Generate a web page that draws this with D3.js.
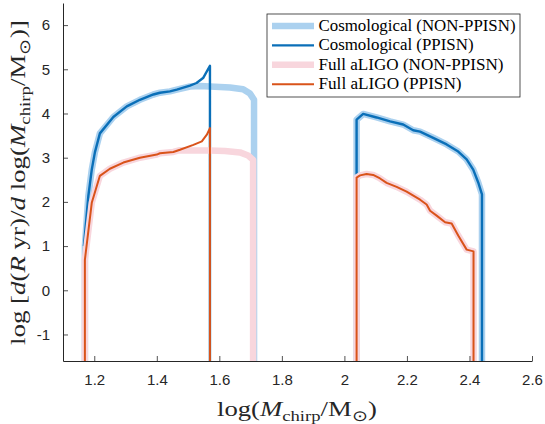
<!DOCTYPE html>
<html>
<head>
<meta charset="utf-8">
<script src="https://cdn.jsdelivr.net/npm/d3@7/dist/d3.min.js"></script>
<style>
  html, body { margin: 0; padding: 0; background: #ffffff; }
  svg { display: block; }
</style>
</head>
<body>
<div id="chart"></div>
<script>
// ---------------- data ----------------
// null separates the two mass ranges of each curve; -5 stands for log(0) (off the bottom of the axes)
const cosmoNonX = [1.170, 1.170, 1.181, 1.192, 1.202, 1.218, 1.261, 1.304, 1.346, 1.389, 1.410, 1.442, 1.464, 1.506, 1.538, 1.570, 1.602, 1.634, 1.676, 1.698, 1.711, 1.711,
                   null,
                   2.039, 2.039, 2.060, 2.103, 2.146, 2.188, 2.220, 2.242, 2.284, 2.327, 2.364, 2.391, 2.412, 2.428, 2.440, 2.440];
const cosmoNonY = [-5, 1.00, 2.13, 2.73, 3.12, 3.55, 3.92, 4.16, 4.31, 4.43, 4.47, 4.50, 4.54, 4.61, 4.62, 4.61, 4.60, 4.59, 4.55, 4.45, 4.31, -5,
                   null,
                   -5, 3.86, 3.99, 3.91, 3.82, 3.75, 3.62, 3.59, 3.45, 3.30, 3.14, 2.96, 2.73, 2.44, 2.17, -5];

const cosmoPpX = [1.167, 1.181, 1.192, 1.202, 1.218, 1.261, 1.304, 1.346, 1.389, 1.410, 1.442, 1.464, 1.506, 1.527, 1.549, 1.570, 1.570,
                  null,
                  2.039, 2.039, 2.060, 2.103, 2.146, 2.188, 2.220, 2.242, 2.284, 2.327, 2.364, 2.391, 2.412, 2.428, 2.440, 2.440];
const cosmoPpY = [1.00, 2.13, 2.73, 3.12, 3.55, 3.92, 4.16, 4.31, 4.43, 4.47, 4.50, 4.54, 4.63, 4.69, 4.81, 5.08, -5,
                  null,
                  2.58, 3.86, 3.99, 3.91, 3.82, 3.75, 3.62, 3.59, 3.45, 3.30, 3.14, 2.96, 2.73, 2.44, 2.17, -5];

const aligoNonX = [1.170, 1.170, 1.192, 1.218, 1.250, 1.293, 1.346, 1.400, 1.410, 1.453, 1.474, 1.522, 1.570, 1.618, 1.666, 1.692, 1.708, 1.708,
                   null,
                   2.039, 2.039, 2.050, 2.071, 2.092, 2.114, 2.135, 2.167, 2.199, 2.242, 2.263, 2.274, 2.295, 2.322, 2.343, 2.364, 2.391, 2.413, 2.413];
const aligoNonY = [-5, 0.69, 1.98, 2.59, 2.75, 2.89, 3.00, 3.07, 3.10, 3.13, 3.17, 3.16, 3.16, 3.15, 3.12, 3.05, 2.95, -5,
                   null,
                   -5, 2.55, 2.60, 2.63, 2.61, 2.53, 2.43, 2.34, 2.23, 2.05, 1.94, 1.80, 1.69, 1.54, 1.51, 1.24, 0.92, 0.88, -5];

const aligoPpX = [1.170, 1.170, 1.192, 1.218, 1.250, 1.293, 1.346, 1.400, 1.410, 1.453, 1.474, 1.517, 1.544, 1.560, 1.570, 1.570,
                  null,
                  2.039, 2.039, 2.050, 2.071, 2.092, 2.114, 2.135, 2.167, 2.199, 2.242, 2.263, 2.274, 2.295, 2.322, 2.343, 2.364, 2.391, 2.413, 2.413];
const aligoPpY = [-5, 0.69, 1.98, 2.59, 2.75, 2.89, 3.00, 3.07, 3.10, 3.13, 3.18, 3.29, 3.37, 3.52, 3.67, -5,
                  null,
                  -5, 2.55, 2.60, 2.63, 2.61, 2.53, 2.43, 2.34, 2.23, 2.05, 1.94, 1.80, 1.69, 1.54, 1.51, 1.24, 0.92, 0.88, -5];

const seriesNames = ["Cosmological (NON-PPISN)", "Cosmological (PPISN)", "Full aLIGO (NON-PPISN)", "Full aLIGO (PPISN)"];
const xTicks = [1.2, 1.4, 1.6, 1.8, 2, 2.2, 2.4, 2.6];
const xTickLabels = ["1.2", "1.4", "1.6", "1.8", "2", "2.2", "2.4", "2.6"];
const yTicks = [-1, 0, 1, 2, 3, 4, 5, 6];
const yTickLabels = ["-1", "0", "1", "2", "3", "4", "5", "6"];

// ---------------- styles ----------------
const W = 545, H = 424;
const axisColor = "#262626";
const styles = [
  { color: "#abd1ef", width: 6.5 },
  { color: "#0a6fb8", width: 2.4 },
  { color: "#f8d6dd", width: 6.5 },
  { color: "#d9531a", width: 2.0 }
];
const serif = "'Liberation Serif', 'Times New Roman', serif";
const sans = "'Liberation Sans', Arial, Helvetica, sans-serif";

const svg = d3.select("#chart").append("svg")
  .attr("width", W).attr("height", H)
  .attr("viewBox", `0 0 ${W} ${H}`);

const x = d3.scaleLinear().domain([1.1, 2.6]).range([63, 532]);
const y = d3.scaleLinear().domain([-1.6, 6.5]).range([361, 3]);

svg.append("defs").append("clipPath").attr("id", "plotclip")
  .append("rect")
  .attr("x", x.range()[0]).attr("y", y.range()[1])
  .attr("width", x.range()[1] - x.range()[0])
  .attr("height", y.range()[0] - y.range()[1]);

// ---------------- curves ----------------
const seriesData = [
  [cosmoNonX, cosmoNonY],
  [cosmoPpX, cosmoPpY],
  [aligoNonX, aligoNonY],
  [aligoPpX, aligoPpY]
].map(([xs, ys]) => xs.map((v, i) => ({ x: v, y: ys[i] })));

const line = d3.line()
  .defined(d => d.x !== null && d.y !== null)
  .x(d => x(d.x))
  .y(d => y(d.y));

const gCurves = svg.append("g").attr("clip-path", "url(#plotclip)");
seriesData.forEach((data, i) => {
  gCurves.append("path")
    .datum(data)
    .attr("d", line)
    .attr("fill", "none")
    .attr("stroke", styles[i].color)
    .attr("stroke-width", styles[i].width)
    .attr("stroke-linejoin", "round")
    .attr("stroke-linecap", "butt");
});

// ---------------- axes ----------------
const xAxis = d3.axisBottom(x).tickValues(xTicks)
  .tickFormat((d, i) => xTickLabels[i]).tickSizeInner(-5).tickSizeOuter(0).tickPadding(16);
const yAxis = d3.axisLeft(y).tickValues(yTicks)
  .tickFormat((d, i) => yTickLabels[i]).tickSizeInner(-5).tickSizeOuter(0).tickPadding(13);

const gx = svg.append("g").attr("transform", `translate(0,${y.range()[0]})`).call(xAxis);
const gy = svg.append("g").attr("transform", `translate(${x.range()[0]},0)`).call(yAxis);
[gx, gy].forEach(g => {
  g.select(".domain").attr("stroke", axisColor).attr("stroke-width", 1);
  g.selectAll(".tick line").attr("stroke", axisColor).attr("stroke-width", 0.8);
  g.selectAll(".tick text").attr("fill", axisColor)
    .attr("font-family", sans).attr("font-size", 15);
});
gx.selectAll(".tick text").attr("dy", "0.55em");

// ---------------- axis labels ----------------
function mathLabel(g, parts, fontSize) {
  const t = g.append("text")
    .attr("font-family", serif)
    .attr("font-size", fontSize)
    .attr("fill", axisColor);
  parts.forEach(p => {
    const ts = t.append("tspan").text(p.t);
    if (p.i) ts.attr("font-style", "italic");
    if (p.sub) ts.attr("font-size", fontSize * 0.7).attr("dy", fontSize * 0.22);
    if (p.up) ts.attr("dy", -fontSize * 0.22);
  });
  return t;
}

const xLabelParts = [
  { t: "log(" }, { t: "M", i: true }, { t: "chirp", sub: true },
  { t: "/M", up: true }, { t: "⊙", sub: true }, { t: ")", up: true }
];
const gxl = svg.append("g").attr("transform", "translate(297,416)");
mathLabel(gxl, xLabelParts, 21).attr("text-anchor", "middle")
  .attr("textLength", 160).attr("lengthAdjust", "spacingAndGlyphs");

const yLabelParts = [
  { t: "log [" }, { t: "d", i: true }, { t: "(" }, { t: "R", i: true }, { t: " yr)/" },
  { t: "d", i: true }, { t: " log(" }, { t: "M", i: true }, { t: "chirp", sub: true },
  { t: "/M", up: true }, { t: "⊙", sub: true }, { t: ")]", up: true }
];
const gyl = svg.append("g").attr("transform", "translate(25,182.5) rotate(-90)");
mathLabel(gyl, yLabelParts, 21).attr("text-anchor", "middle")
  .attr("textLength", 325).attr("lengthAdjust", "spacingAndGlyphs");

// ---------------- legend ----------------
const legendBox = { x: 267, y: 14, w: 253, h: 83 };
const gl = svg.append("g");
gl.append("rect")
  .attr("x", legendBox.x).attr("y", legendBox.y)
  .attr("width", legendBox.w).attr("height", legendBox.h)
  .attr("fill", "#ffffff").attr("stroke", axisColor).attr("stroke-width", 0.8);
const legendTextLen = [197, 155, 185, 143];
seriesNames.forEach((name, i) => {
  const cy = 26 + i * 19.4;
  gl.append("line")
    .attr("x1", 272).attr("x2", 314).attr("y1", cy).attr("y2", cy)
    .attr("stroke", styles[i].color).attr("stroke-width", styles[i].width);
  gl.append("text")
    .attr("x", 318.5).attr("y", cy + 5)
    .attr("font-family", serif).attr("font-size", 16)
    .attr("fill", "#000000")
    .attr("textLength", legendTextLen[i]).attr("lengthAdjust", "spacingAndGlyphs")
    .text(name);
});
</script>
</body>
</html>
